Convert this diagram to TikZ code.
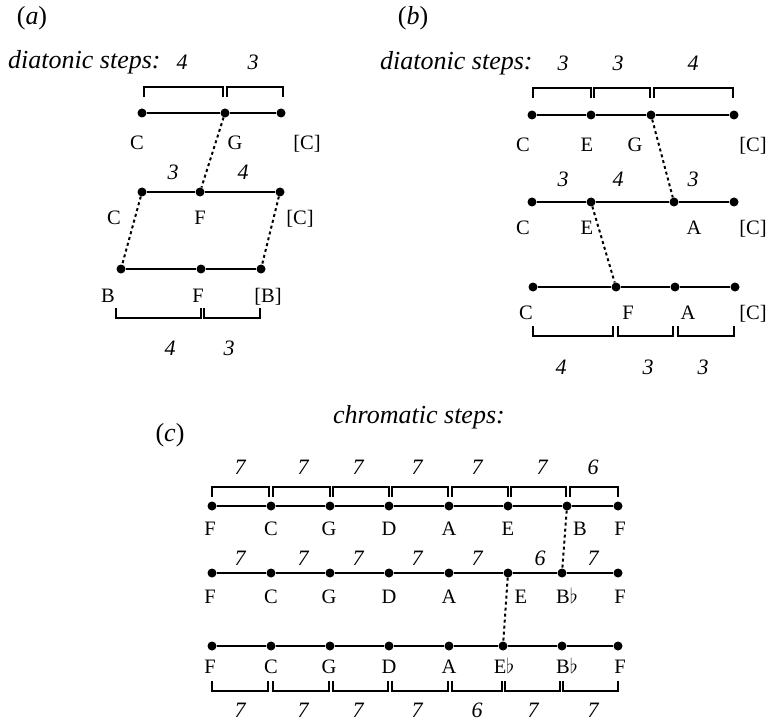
\documentclass[tikz,border=0pt]{standalone}
\usepackage{fontspec}
\setmainfont{Liberation Serif}
\tikzset{
  dotn/.style={circle,fill=black,inner sep=0pt,minimum size=9pt},
  ln/.style={line width=1.5pt},
  brk/.style={line width=2.8pt},
  dotted link/.style={line width=2pt,dash pattern=on 3pt off 3pt},
  lbl/.style={font=\fontsize{20.5}{24}\selectfont,anchor=base,inner sep=0pt},
  num/.style={font=\fontsize{22}{26}\selectfont\itshape,anchor=base,inner sep=0pt},
  hdr/.style={font=\fontsize{26}{30}\selectfont\itshape,anchor=base west,inner sep=0pt},
  pnl/.style={font=\fontsize{26}{30}\selectfont,anchor=base,inner sep=0pt}
}
\newcommand\mytopbr[3]{\draw[brk] ({#1+1},{#3+10}) -- ({#1+1},#3) -- ({#2-1},#3) -- ({#2-1},{#3+10});}
\newcommand\mybotbr[3]{\draw[brk] ({#1+1},{#3-10}) -- ({#1+1},#3) -- ({#2-1},#3) -- ({#2-1},{#3-10});}
\begin{document}
\begin{tikzpicture}[x=1pt,y=-1pt]
\useasboundingbox (0,0) rectangle (768,722);
%%%%%%%%%%%%%%%% panel (a)
\node[pnl] (pa) at (32,25) {(\textit{a})};
\node[hdr] (ha) at (8,69) {diatonic steps:};
\node[num] (na1) at (182,70) {4};
\node[num] (na2) at (253,70) {3};
\mytopbr{143}{224}{87}
\mytopbr{226}{284}{87}
\node[dotn] (a1) at (142,113) {};
\node[dotn] (a2) at (225,113) {};
\node[dotn] (a3) at (281,113) {};
\draw[ln] (a1) -- (a2) -- (a3);
\node[lbl] (la1) at (137,150) {C};
\node[lbl] (la2) at (235,150) {G};
\node[lbl] (la3) at (307,150) {[C]};
\node[num] (na3) at (173,180) {3};
\node[num] (na4) at (243,180) {4};
\node[dotn] (b1) at (142,192) {};
\node[dotn] (b2) at (200,192) {};
\node[dotn] (b3) at (280,192) {};
\draw[ln] (b1) -- (b2) -- (b3);
\node[lbl] (lb1) at (114,224) {C};
\node[lbl] (lb2) at (200,224) {F};
\node[lbl] (lb3) at (300,224) {[C]};
\node[dotn] (c1) at (121,269) {};
\node[dotn] (c2) at (201,269) {};
\node[dotn] (c3) at (261,269) {};
\draw[ln] (c1) -- (c2) -- (c3);
\node[lbl] (lc1) at (108,302) {B};
\node[lbl] (lc2) at (198,302) {F};
\node[lbl] (lc3) at (268,302) {[B]};
\mybotbr{115}{202}{318}
\mybotbr{203}{261}{318}
\node[num] (na5) at (170,355) {4};
\node[num] (na6) at (229,355) {3};
\draw[dotted link] (a2) -- (b2);
\draw[dotted link] (b1) -- (c1);
\draw[dotted link] (b3) -- (c3);
%%%%%%%%%%%%%%%% panel (b)
\node[pnl] (pb) at (413,25) {(\textit{b})};
\node[hdr] (hb) at (380,70) {diatonic steps:};
\node[num] (nb1) at (563,71) {3};
\node[num] (nb2) at (618,71) {3};
\node[num] (nb3) at (693,71) {4};
\mytopbr{532}{592}{88}
\mytopbr{593}{651}{88}
\mytopbr{653}{734}{88}
\node[dotn] (d1) at (532,115) {};
\node[dotn] (d2) at (591,115) {};
\node[dotn] (d3) at (651,115) {};
\node[dotn] (d4) at (734,115) {};
\draw[ln] (d1) -- (d2) -- (d3) -- (d4);
\node[lbl] (ld1) at (523,152) {C};
\node[lbl] (ld2) at (587,152) {E};
\node[lbl] (ld3) at (635,152) {G};
\node[lbl] (ld4) at (753,152) {[C]};
\node[num] (nb4) at (563,187) {3};
\node[num] (nb5) at (618,187) {4};
\node[num] (nb6) at (693,187) {3};
\node[dotn] (e1) at (532,202) {};
\node[dotn] (e2) at (591,202) {};
\node[dotn] (e3) at (674,202) {};
\node[dotn] (e4) at (734,202) {};
\draw[ln] (e1) -- (e2) -- (e3) -- (e4);
\node[lbl] (le1) at (523,234) {C};
\node[lbl] (le2) at (587,234) {E};
\node[lbl] (le3) at (694,234) {A};
\node[lbl] (le4) at (753,234) {[C]};
\node[dotn] (f1) at (533,287) {};
\node[dotn] (f2) at (616,287) {};
\node[dotn] (f3) at (675,287) {};
\node[dotn] (f4) at (735,287) {};
\draw[ln] (f1) -- (f2) -- (f3) -- (f4);
\node[lbl] (lf1) at (526,319) {C};
\node[lbl] (lf2) at (628,319) {F};
\node[lbl] (lf3) at (688,319) {A};
\node[lbl] (lf4) at (753,319) {[C]};
\mybotbr{532}{614}{336}
\mybotbr{617}{674}{336}
\mybotbr{677}{735}{336}
\node[num] (nb7) at (561,374) {4};
\node[num] (nb8) at (648,374) {3};
\node[num] (nb9) at (703,374) {3};
\draw[dotted link] (d3) -- (e3);
\draw[dotted link] (e2) -- (f2);
%%%%%%%%%%%%%%%% panel (c)
\node[pnl] (pc) at (170,441) {(\textit{c})};
\node[hdr] (hc) at (333,423) {chromatic steps:};
\foreach \x/\t [count=\i] in {240/7,303/7,358/7,417/7,477/7,542/7,593/6}
  \node[num] (nt\i) at (\x,474) {\t};
\mytopbr{211}{270}{487}
\mytopbr{272}{331}{487}
\mytopbr{332}{390}{487}
\mytopbr{391}{449}{487}
\mytopbr{451}{509}{487}
\mytopbr{510}{567}{487}
\mytopbr{569}{619}{487}
\foreach \x [count=\i] in {212,271,330,389,449,508,567,618}
  \node[dotn] (g\i) at (\x,506) {};
\draw[ln] (g1) -- (g2) -- (g3) -- (g4) -- (g5) -- (g6) -- (g7) -- (g8);
\foreach \x/\t [count=\i] in {210/F,271/C,329/G,389/D,449/A,508/E,580/B,620/F}
  \node[lbl] (lg\i) at (\x,535) {\t};
\foreach \x/\t [count=\i] in {240/7,303/7,358/7,417/7,477/7,540/6,593/7}
  \node[num] (nm\i) at (\x,565) {\t};
\foreach \x [count=\i] in {212,271,330,389,449,508,562,618}
  \node[dotn] (h\i) at (\x,573) {};
\draw[ln] (h1) -- (h2) -- (h3) -- (h4) -- (h5) -- (h6) -- (h7) -- (h8);
\foreach \x/\t [count=\i] in {210/F,271/C,329/G,389/D,449/A,521/E,567/B$\flat$,620/F}
  \node[lbl] (lh\i) at (\x,603) {\t};
\foreach \x [count=\i] in {212,271,330,389,449,503,562,618}
  \node[dotn] (k\i) at (\x,646) {};
\draw[ln] (k1) -- (k2) -- (k3) -- (k4) -- (k5) -- (k6) -- (k7) -- (k8);
\foreach \x/\t [count=\i] in {210/F,271/C,329/G,389/D,449/A,504/E$\flat$,567/B$\flat$,620/F}
  \node[lbl] (lk\i) at (\x,673) {\t};
\mybotbr{211}{269}{691}
\mybotbr{272}{330}{691}
\mybotbr{332}{389}{691}
\mybotbr{391}{449}{691}
\mybotbr{451}{503}{691}
\mybotbr{504}{561}{691}
\mybotbr{562}{619}{691}
\foreach \x/\t [count=\i] in {240/7,303/7,358/7,417/7,477/6,533/7,593/7}
  \node[num] (nk\i) at (\x,717) {\t};
\draw[dotted link] (g7) -- (h7);
\draw[dotted link] (h6) -- (k6);
\end{tikzpicture}
\end{document}
